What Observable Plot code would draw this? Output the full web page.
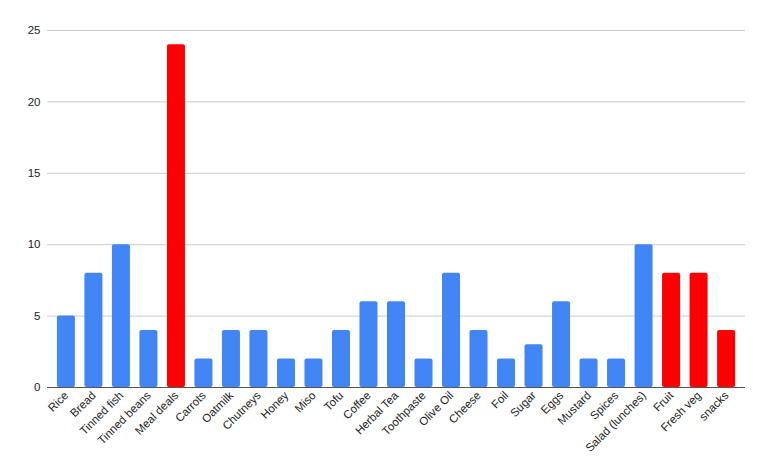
<!DOCTYPE html>
<html><head><meta charset="utf-8">
<script src="https://cdn.jsdelivr.net/npm/d3@7"></script>
<script src="https://cdn.jsdelivr.net/npm/@observablehq/plot@0.6"></script>
<style>body{margin:0;background:#fff;font-family:"Liberation Sans",Arial,sans-serif}</style>
</head><body><div id="chart"></div>
<script>
const categories = ["Rice","Bread","Tinned fish","Tinned beans","Meal deals","Carrots","Oatmilk","Chutneys","Honey","Miso","Tofu","Coffee","Herbal Tea","Toothpaste","Olive Oil","Cheese","Foil","Sugar","Eggs","Mustard","Spices","Salad (lunches)","Fruit","Fresh veg","snacks"];
const values = [5,8,10,4,24,2,4,4,2,2,4,6,6,2,8,4,2,3,6,2,2,10,8,8,4];
const highlighted = ["Meal deals","Fruit","Fresh veg","snacks"];
const yTicks = [0,5,10,15,20,25];

const data = categories.map((c,i)=>({cat:c, value:values[i], hi: highlighted.includes(c)}));

const chart = Plot.plot({
  width: 768, height: 475,
  marginLeft: 47, marginRight: 23, marginTop: 30, marginBottom: 88,
  style: {fontFamily: '"Liberation Sans", Arial, sans-serif', fontSize: "11.5px", color: "#222"},
  x: {domain: categories, paddingInner: 0.345, paddingOuter: 0.36, round: false, label: null, tickSize: 0, tickRotate: -45, tickPadding: 6},
  y: {domain: [0,25], ticks: yTicks, label: null, tickSize: 0, tickPadding: 7},
  marks: [
    Plot.gridY(yTicks.filter(d=>d>0), {stroke: "#ccc", strokeOpacity: 1}),
    Plot.barY(data, {x: "cat", y: "value", fill: d => d.hi ? "#FF0000" : "#4285F4", rx: 2}),
    Plot.ruleY([0], {stroke: "#555", strokeWidth: 1.2})
  ]
});
document.getElementById("chart").appendChild(chart);
</script></body></html>
